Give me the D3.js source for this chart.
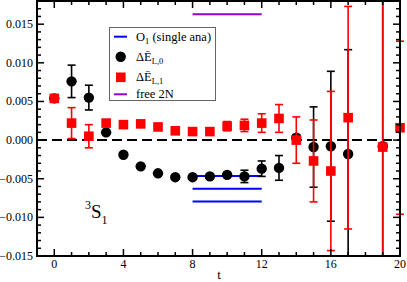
<!DOCTYPE html>
<html>
<head>
<meta charset="utf-8">
<title>3S1 effective energy</title>
<style>
body { margin: 0; background: #fff; }
text { font-family: "Liberation Serif", "DejaVu Serif", serif; fill: #000; }
</style>
</head>
<body>
<div id="graphic"></div>
<script src="https://cdn.jsdelivr.net/npm/d3@7"></script>
<script>
// data
var tBlack   = [0, 1, 2, 3, 4, 5, 6, 7, 8, 9, 10, 11, 12, 13, 14, 15, 16, 17, 19];
var valBlack = [0.0054, 0.0076, 0.0055, 0.0010, -0.0019, -0.0034, -0.0043, -0.0048, -0.0048, -0.0047,
                -0.0045, -0.0047, -0.0037, -0.0036, 0.0003, -0.0009, -0.0008, -0.0018, -0.0008];
var errBlack = [0.0002, 0.0021, 0.0016, 0.0002, 0.0002, 0.0002, 0.0002, 0.0002, 0.0002, 0.0003,
                0.0003, 0.0008, 0.0010, 0.0016, 0.0004, 0.0052, 0.0097, 0.0135, 0.0300];

var tRed   = [0, 1, 2, 3, 4, 5, 6, 7, 8, 9, 10, 11, 12, 13, 14, 15, 16, 17, 19, 20];
var valRed = [0.0054, 0.0022, 0.0005, 0.0022, 0.0020, 0.0021, 0.0017, 0.0012, 0.0011, 0.0011,
              0.0018, 0.0019, 0.0022, 0.0028, 0.0000, -0.0027, -0.0040, 0.0029, -0.0009, 0.0016];
var errRed = [0.0002, 0.0020, 0.0015, 0.0002, 0.0002, 0.0002, 0.0002, 0.0002, 0.0002, 0.0002,
              0.0006, 0.0008, 0.0012, 0.0018, 0.0030, 0.0053, 0.0103, 0.0144, 0.0300, 0.0112];

// O1 single analysis band (t range, centre, error)
var bandT = [8, 12];
var bandVal = -0.0063;
var bandErr = 0.00165;

// free 2N
var freeT = [8, 12];
var freeVal = 0.0163;

var xTicks = [0, 4, 8, 12, 16, 20];
var yTicks = [-0.015, -0.010, -0.005, 0.000, 0.005, 0.010, 0.015];

var w = 407, h = 282;
var pL = 37, pR = 400, pT = 1, pB = 256;

var svg = d3.select("#graphic").append("svg")
    .attr("width", w)
    .attr("height", h);

var x = d3.scaleLinear().domain([-1, 20]).range([pL, pR]);
var y = d3.scaleLinear().domain([-0.015, 0.018]).range([pB, pT]);

svg.append("clipPath").attr("id", "clip")
    .append("rect").attr("x", 0).attr("y", pT).attr("width", w).attr("height", pB - pT);

var plot = svg.append("g").attr("clip-path", "url(#clip)");

// zero line
plot.append("line")
    .attr("x1", pL).attr("x2", pR)
    .attr("y1", y(0)).attr("y2", y(0))
    .attr("stroke", "#000").attr("stroke-width", 2)
    .attr("stroke-dasharray", "10,5");

// blue band lines
[bandVal - bandErr, bandVal, bandVal + bandErr].forEach(function(v) {
    plot.append("line")
        .attr("x1", x(bandT[0])).attr("x2", x(bandT[1]))
        .attr("y1", y(v)).attr("y2", y(v))
        .attr("stroke", "#0000ff").attr("stroke-width", 2);
});

// free 2N
plot.append("line")
    .attr("x1", x(freeT[0])).attr("x2", x(freeT[1]))
    .attr("y1", y(freeVal)).attr("y2", y(freeVal))
    .attr("stroke", "#9400d3").attr("stroke-width", 2);

function drawSet(ts, vals, errs, color, shape) {
    var data = ts.map(function(t, i) { return { t: t, v: vals[i], e: errs[i] }; });
    var g = plot.append("g");
    var cap = 4;
    data.forEach(function(d) {
        var x0 = x(d.t), yt = y(d.v + d.e), yb = y(d.v - d.e);
        g.append("line").attr("x1", x0).attr("x2", x0).attr("y1", yt).attr("y2", yb)
            .attr("stroke", color).attr("stroke-width", 1.6);
        [yt, yb].forEach(function(yy) {
            g.append("line").attr("x1", x0 - cap).attr("x2", x0 + cap).attr("y1", yy).attr("y2", yy)
                .attr("stroke", color).attr("stroke-width", 1.6);
        });
    });
    if (shape === "circle") {
        g.selectAll("circle").data(data).enter().append("circle")
            .attr("cx", function(d) { return x(d.t); })
            .attr("cy", function(d) { return y(d.v); })
            .attr("r", 5.2)
            .attr("fill", color);
    } else {
        g.selectAll("rect.sym").data(data).enter().append("rect")
            .attr("class", "sym")
            .attr("x", function(d) { return x(d.t) - 4.8; })
            .attr("y", function(d) { return y(d.v) - 4.8; })
            .attr("width", 9.6).attr("height", 9.6)
            .attr("fill", color);
    }
}

drawSet(tBlack, valBlack, errBlack, "#000", "circle");
drawSet(tRed, valRed, errRed, "#ff0000", "square");

// frame and ticks (inward, all four sides)
var axes = svg.append("g").attr("stroke", "#000").attr("fill", "none");
d3.range(-1, 21, 1).forEach(function(t) {
    var major = xTicks.indexOf(t) >= 0;
    var len = major ? 7 : 4;
    axes.append("line").attr("x1", x(t)).attr("x2", x(t)).attr("y1", pB).attr("y2", pB - len).attr("stroke-width", 1.5);
    axes.append("line").attr("x1", x(t)).attr("x2", x(t)).attr("y1", pT).attr("y2", pT + len).attr("stroke-width", 1.5);
});
d3.range(-15, 19, 1).forEach(function(k) {
    var v = k / 1000;
    var major = k % 5 === 0;
    var len = major ? 7 : 4;
    axes.append("line").attr("x1", pL).attr("x2", pL + len).attr("y1", y(v)).attr("y2", y(v)).attr("stroke-width", 1.5);
    axes.append("line").attr("x1", pR).attr("x2", pR - len).attr("y1", y(v)).attr("y2", y(v)).attr("stroke-width", 1.5);
});
axes.append("rect")
    .attr("x", pL).attr("y", pT)
    .attr("width", pR - pL).attr("height", pB - pT)
    .attr("stroke-width", 2);

// tick labels
svg.append("g").selectAll("text").data(xTicks).enter().append("text")
    .attr("x", function(d) { return x(d); })
    .attr("y", 268)
    .attr("text-anchor", "middle")
    .attr("font-size", 12)
    .text(function(d) { return d; });

svg.append("g").selectAll("text").data(yTicks).enter().append("text")
    .attr("x", 33)
    .attr("y", function(d) { return y(d) + 4; })
    .attr("text-anchor", "end")
    .attr("font-size", 12)
    .text(function(d) { return d3.format(".3f")(d); });

svg.append("text").attr("x", 219).attr("y", 279)
    .attr("text-anchor", "middle").attr("font-size", 13).text("t");

// 3S1 label
var lab = svg.append("text").attr("x", 85).attr("y", 218).attr("font-size", 19);
lab.append("tspan").attr("font-size", 12).attr("dy", -9).text("3");
lab.append("tspan").attr("dy", 9).text("S");
lab.append("tspan").attr("font-size", 12).attr("dy", 6).text("1");

// legend
var leg = svg.append("g");
leg.append("rect")
    .attr("x", 109.5).attr("y", 27.5).attr("width", 106).attr("height", 73)
    .attr("fill", "#fff").attr("stroke", "#666").attr("stroke-width", 1);

var rows = [36.7, 56.7, 77.3, 94.3];
leg.append("line").attr("x1", 114).attr("x2", 127).attr("y1", rows[0]).attr("y2", rows[0])
    .attr("stroke", "#0000ff").attr("stroke-width", 2);
leg.append("circle").attr("cx", 120.7).attr("cy", rows[1]).attr("r", 5.2).attr("fill", "#000");
leg.append("rect").attr("x", 116).attr("y", rows[2] - 4.8).attr("width", 9.6).attr("height", 9.6).attr("fill", "#ff0000");
leg.append("line").attr("x1", 114).attr("x2", 127).attr("y1", rows[3]).attr("y2", rows[3])
    .attr("stroke", "#9400d3").attr("stroke-width", 2);

function legText(yy) {
    return leg.append("text").attr("x", 136).attr("y", yy + 4).attr("font-size", 12.5);
}
var t1 = legText(rows[0]);
t1.append("tspan").text("O");
t1.append("tspan").attr("font-size", 8.5).attr("dy", 3).text("1");
t1.append("tspan").attr("dy", -3).text(" (single ana)");

var t2 = legText(rows[1]);
t2.append("tspan").text("\u0394\u0112");
t2.append("tspan").attr("font-size", 8.5).attr("dy", 3).text("L,0");

var t3 = legText(rows[2]);
t3.append("tspan").text("\u0394\u0112");
t3.append("tspan").attr("font-size", 8.5).attr("dy", 3).text("L,1");

legText(rows[3]).text("free 2N");
</script>
</body>
</html>
